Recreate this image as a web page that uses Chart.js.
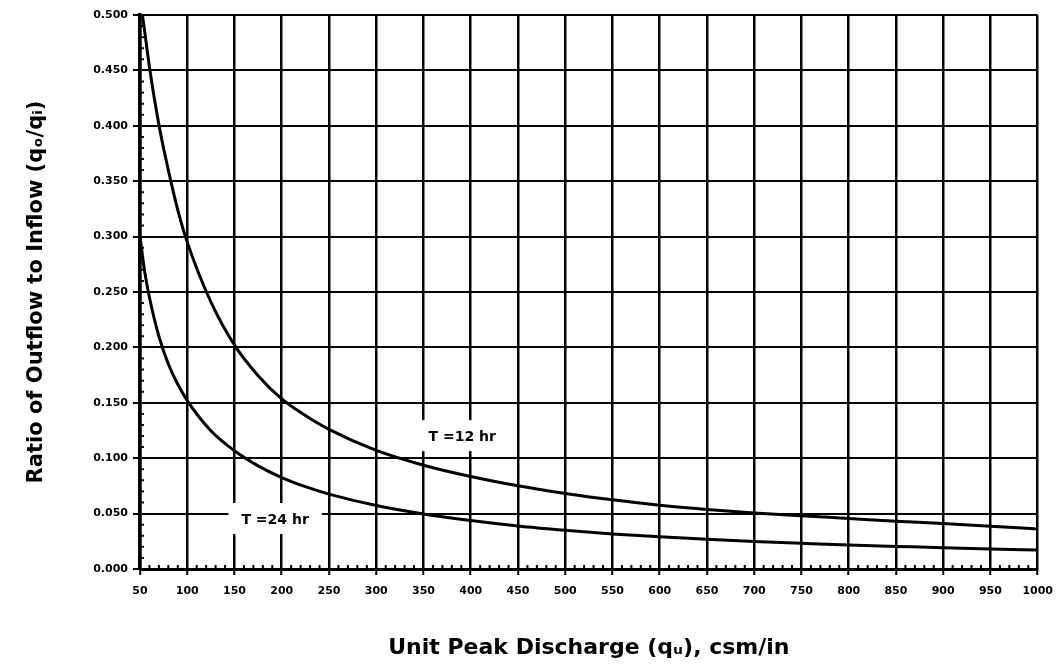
<!DOCTYPE html>
<html>
<head>
<meta charset="utf-8">
<script src="https://cdn.jsdelivr.net/npm/chart.js@4.4.1/dist/chart.umd.min.js"></script>
<style>
  html, body { margin: 0; padding: 0; background: #fff; }
</style>
</head>
<body>
<canvas id="grafico" width="1063" height="668"></canvas>
<script>
// ==========================
// DATA
// ==========================
const discharge = [50, 55, 60, 70, 80, 90, 100, 125, 150, 175, 200, 225, 250, 300, 350, 400, 450,
  500, 550, 600, 650, 700, 750, 800, 850, 900, 950, 1000];
const ratio12hr = [0.516, 0.485, 0.453, 0.401, 0.360, 0.324, 0.295, 0.241, 0.202, 0.1745, 0.1535,
  0.1385, 0.126, 0.107, 0.0937, 0.0835, 0.0751, 0.0682, 0.0624, 0.0575, 0.0537, 0.0506, 0.0480,
  0.0456, 0.0432, 0.0410, 0.0385, 0.0362];
const ratio24hr = [0.300, 0.268, 0.245, 0.210, 0.185, 0.1667, 0.152, 0.1248, 0.1067, 0.0931, 0.0825,
  0.0743, 0.0676, 0.0573, 0.0497, 0.0438, 0.0389, 0.0350, 0.0316, 0.0290, 0.0268, 0.0249, 0.0232,
  0.0216, 0.0204, 0.0192, 0.0181, 0.0171];
const xTicks = [50, 100, 150, 200, 250, 300, 350, 400, 450, 500, 550, 600, 650, 700, 750,
  800, 850, 900, 950, 1000];
const yTicks = [0, 0.05, 0.1, 0.15, 0.2, 0.25, 0.3, 0.35, 0.4, 0.45, 0.5];
const curveLabels = ["T =12 hr", "T =24 hr"];
const labelAt = [[391, 0.119], [193, 0.0442]];

// ==========================
// EXTRAS: minor ticks + curve labels
// ==========================
const extras = {
  id: "extras",
  afterDraw(chart) {
    const { ctx, scales: { x, y } } = chart;
    ctx.save();
    ctx.strokeStyle = "#000";
    ctx.lineWidth = 2;
    ctx.beginPath();
    for (let v = 60; v < 1000; v += 10) {
      if (v % 50 === 0) continue;
      const px = x.getPixelForValue(v);
      ctx.moveTo(px, y.bottom);
      ctx.lineTo(px, y.bottom - 4);
    }
    for (let i = 1; i < 50; i++) {
      if (i % 5 === 0) continue;
      const py = y.getPixelForValue(i / 100);
      ctx.moveTo(x.left, py);
      ctx.lineTo(x.left + 4, py);
    }
    ctx.stroke();

    ctx.font = "bold 14px 'DejaVu Sans', sans-serif";
    ctx.textAlign = "center";
    ctx.textBaseline = "middle";
    curveLabels.forEach((txt, i) => {
      const px = x.getPixelForValue(labelAt[i][0]);
      const py = y.getPixelForValue(labelAt[i][1]);
      const w = ctx.measureText(txt).width + 26;
      ctx.fillStyle = "#fff";
      ctx.fillRect(px - w / 2, py - 17, w, 31);
      ctx.fillStyle = "#000";
      ctx.fillText(txt, px, py);
    });
    ctx.restore();
  }
};

// ==========================
// CHART
// ==========================
const tickFont = { family: "'DejaVu Sans'", weight: "bold", size: 11 };
const titleFont = { family: "'DejaVu Sans'", weight: "bold" };

new Chart(document.getElementById("grafico"), {
  type: "line",
  data: {
    datasets: [
      {
        label: curveLabels[0],
        data: discharge.map((q, i) => ({ x: q, y: ratio12hr[i] })),
        borderColor: "#000",
        borderWidth: 3,
        pointRadius: 0,
        cubicInterpolationMode: "monotone",
        fill: false
      },
      {
        label: curveLabels[1],
        data: discharge.map((q, i) => ({ x: q, y: ratio24hr[i] })),
        borderColor: "#000",
        borderWidth: 3,
        pointRadius: 0,
        cubicInterpolationMode: "monotone",
        fill: false
      }
    ]
  },
  options: {
    responsive: false,
    animation: false,
    devicePixelRatio: 1,
    layout: { padding: { top: 15, right: 25, left: 0, bottom: 0 } },
    plugins: { legend: { display: false }, tooltip: { enabled: false } },
    scales: {
      x: {
        type: "linear",
        min: 50,
        max: 1000,
        afterBuildTicks: s => { s.ticks = xTicks.map(v => ({ value: v })); },
        afterFit: s => { s.height = 99; },
        ticks: { font: tickFont, color: "#000", padding: 10, maxRotation: 0, autoSkip: false,
          callback: v => String(v) },
        grid: { color: "#000", lineWidth: 2.5, tickLength: 6, tickColor: "#000", tickWidth: 2 },
        border: { color: "#000", width: 3 },
        title: {
          display: true,
          text: "Unit Peak Discharge (qᵤ), csm/in",
          color: "#000",
          font: { ...titleFont, size: 22 },
          padding: { top: 0, bottom: 7 }
        }
      },
      y: {
        min: 0,
        max: 0.5,
        afterBuildTicks: s => { s.ticks = yTicks.map(v => ({ value: v })); },
        afterFit: s => { s.width = 140; },
        ticks: { font: tickFont, color: "#000", padding: 5, callback: v => v.toFixed(3) },
        grid: { color: "#000", lineWidth: 2, tickLength: 7, tickColor: "#000", tickWidth: 2 },
        border: { color: "#000", width: 3.5 },
        title: {
          display: true,
          text: "Ratio of Outflow to Inflow (qₒ/qᵢ)",
          color: "#000",
          font: { ...titleFont, size: 21 },
          padding: { top: 24, bottom: 0 }
        }
      }
    }
  },
  plugins: [extras]
});
</script>
</body>
</html>
